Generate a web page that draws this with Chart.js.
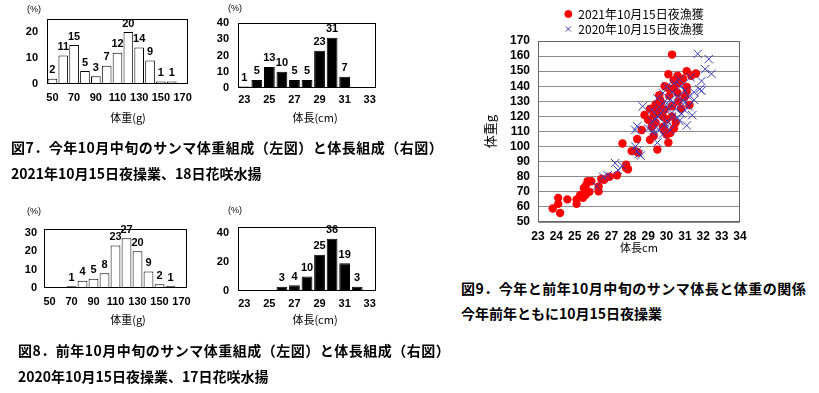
<!DOCTYPE html>
<html><head><meta charset="utf-8">
<script src="https://cdn.jsdelivr.net/npm/chart.js@4"></script>
<style>
body{margin:0;background:#fff;width:819px;height:393px;overflow:hidden;position:relative;font-family:"Noto Sans CJK JP",sans-serif;color:#000;}
canvas{position:absolute;}
.cap{position:absolute;font-weight:bold;font-size:14px;line-height:20px;white-space:nowrap;}
.l1{letter-spacing:0.5px;}
.pct{position:absolute;font-size:9px;line-height:11px;font-family:"Liberation Sans",sans-serif;}
.xt{position:absolute;font-size:11px;line-height:14px;white-space:nowrap;transform:translateX(-50%);}
</style></head><body>
<canvas id="c1" width="200" height="130" style="left:0;top:0"></canvas>
<canvas id="c2" width="185" height="130" style="left:200px;top:0"></canvas>
<canvas id="c3" width="200" height="130" style="left:0;top:195px"></canvas>
<canvas id="c4" width="185" height="130" style="left:200px;top:195px"></canvas>
<canvas id="c5" width="330" height="262" style="left:470px;top:0"></canvas>

<div class="pct" style="left:27px;top:4px">(%)</div>
<div class="pct" style="left:228px;top:3px">(%)</div>
<div class="pct" style="left:27px;top:206px">(%)</div>
<div class="pct" style="left:228px;top:205px">(%)</div>
<div class="xt" style="left:128px;top:110px">体重(g)</div>
<div class="xt" style="left:315px;top:110px">体長(cm)</div>
<div class="xt" style="left:128px;top:312px">体重(g)</div>
<div class="xt" style="left:315px;top:312px">体長(cm)</div>

<div class="cap l1" style="left:11px;top:137px">図7．今年10月中旬のサンマ体重組成（左図）と体長組成（右図）</div>
<div class="cap" style="left:11px;top:163px">2021年10月15日夜操業、18日花咲水揚</div>
<div class="cap l1" style="left:18px;top:340px">図8．前年10月中旬のサンマ体重組成（左図）と体長組成（右図）</div>
<div class="cap" style="left:18px;top:366px">2020年10月15日夜操業、17日花咲水揚</div>
<div class="cap l1" style="left:461px;top:278px">図9．今年と前年10月中旬のサンマ体長と体重の関係</div>
<div class="cap" style="left:461px;top:303px">今年前年ともに10月15日夜操業</div>

<script>
// ---- data ----
const weightClasses = ['50','60','70','80','90','100','110','120','130','140','150','160','170'];
const lengthClasses = ['23','24','25','26','27','28','29','30','31','32','33'];
const weight2021 = [2,11,15,5,3,7,12,20,14,9,1,1,0];
const length2021 = [1,5,13,10,5,5,23,31,7,0,0];
const weight2020 = [0,0,1,4,5,8,23,27,20,9,2,1,0];
const length2020 = [0,0,0,3,4,10,25,36,19,3,0];
const label2021 = '2021年10月15日夜漁獲';
const label2020 = '2020年10月15日夜漁獲';
const fish2021 = [
 [23.8,59],[24.1,66],[24.1,62],[24.2,56],[24.6,65],[25.1,65],[25.1,62],[25.3,68],[25.45,66],[25.5,72.5],
 [25.6,68],[25.7,77],[25.9,77],[25.6,74],[25.8,70],[26.3,73.6],[26.3,70.3],[26.45,78.5],[26.6,78],[26.9,80],
 [27.3,81],[27.8,88],[27.8,85.7],[27.9,85],[27.6,102],[28.1,97],[28.3,97],[28.45,96],[28.4,105],[28.65,111],
 [29.1,104.5],[29.3,107],[29.5,98],[30.1,102.7],[30.0,108],[30.2,109],
 [30.3,161],[30.1,148],[30.6,147],[30.7,143],[31.1,150],[31.35,147],[31.6,148.5],[30.6,142],[30.1,138.7],[30.4,138.7],
 [31.1,139.5],[31.1,136.6],[29.6,134],[29.65,131],[29.6,127.6],[30.15,133.6],[31.25,127.6],[30.65,130],[29.3,121],[28.8,121],
 [29.0,117.7],[29.5,122],[29.9,124.5],[30.3,126.7],[29.8,113],[29.2,113],[29.5,124.5],[29.7,129],[30.6,135.5],[31.0,133],
 [30.3,120],[30.5,116],[30.0,118],[29.9,110],[30.4,112],[29.4,116],[30.8,125],[29.8,120],
 [29.1,125],[30.4,144],[29.9,140],[30.9,145],[29.4,128]
];
const fish2020 = [
 [26.2,73.6],[26.55,80],[26.8,81],[27.2,89],[27.35,84.5],[27.6,87],[28.3,100],[28.5,95],[28.6,94],[28.4,97],
 [29.3,109],[29.5,102.6],[29.6,111],[30.2,111],[29.8,108],
 [31.7,161.5],[32.3,158],[32.1,151.3],[32.45,148.2],[31.9,143.5],[31.8,138],[31.5,136],[31.9,137],[31.3,146],[28.7,126.7],
 [28.4,113.5],[28.3,111],[29.2,116.6],[29.5,120],[30.1,124.5],[30.4,128.9],[30.6,133.4],[30.9,131],[30.8,122],[31.4,120.8],
 [30.3,120],[29.9,115.6],[30.6,119],[30.0,140],[30.4,142],[30.7,144.5],[29.2,124.5],[29.5,132],[29.8,135.5],[31.2,126.7],
 [31.0,137],[31.5,131],[30.0,113],[29.0,112],[31.1,114],
 [29.4,118],[29.7,122],[30.0,127],[30.2,131],[30.5,125],[30.9,128],[29.9,130],[30.3,136],[29.6,126],[30.8,140],
 [31.2,133],[29.3,111],[30.7,117],[31.0,124],[30.1,116]
];

// ---- plugins ----
const framePlugin = {
  id: 'frame',
  afterDatasetsDraw(chart, args, opts) {
    const {ctx, chartArea: a} = chart;
    ctx.save();
    ctx.strokeStyle = opts.color || '#000';
    ctx.lineWidth = 1;
    ctx.strokeRect(Math.round(a.left) + 0.5, Math.round(a.top) + 0.5,
                   Math.round(a.right - a.left) - 1, Math.round(a.bottom - a.top) - 1);
    ctx.restore();
  }
};
const valueLabels = {
  id: 'valueLabels',
  afterDatasetsDraw(chart, args, opts) {
    if (!opts.display) return;
    const {ctx} = chart;
    const meta = chart.getDatasetMeta(0);
    const data = chart.data.datasets[0].data;
    ctx.save();
    ctx.font = 'bold 11px "Liberation Sans", Arial, sans-serif';
    ctx.fillStyle = '#000';
    ctx.textAlign = 'center';
    ctx.textBaseline = 'bottom';
    meta.data.forEach((bar, i) => {
      if (!data[i]) return;
      ctx.fillText(String(data[i]), bar.x, bar.y - 3);
    });
    ctx.restore();
  }
};
// nudges the legend box (placement only) so it is centred above the plot like the original
const legendShift = {
  id: 'legendShift',
  afterLayout(chart, args, opts) {
    const lg = chart.legend;
    if (!lg) return;
    lg.left += opts.dx; lg.right += opts.dx;
    lg.top += opts.dy; lg.bottom += opts.dy;
  }
};

const tickFont = {family: '"Liberation Sans", Arial, sans-serif', size: 11, weight: 'bold'};

function histogram(id, labels, values, o) {
  return new Chart(document.getElementById(id), {
    type: 'bar',
    data: {labels: labels, datasets: [{
      data: values, backgroundColor: o.fill, borderColor: '#000', borderWidth: 1,
      barPercentage: o.bp, categoryPercentage: 1
    }]},
    options: {
      responsive: false, animation: false,
      layout: {padding: o.pad},
      plugins: {legend: {display: false}, tooltip: {enabled: false},
                frame: {color: '#000'}, valueLabels: {display: true}},
      scales: {
        x: {
          grid: {display: false, drawTicks: false}, border: {display: false},
          ticks: {autoSkip: false, maxRotation: 0, padding: o.xPad, font: tickFont, color: '#000',
                  callback: (v, i) => (i % 2 === 0 ? labels[i] : '')},
          afterFit(s) { s.height = 30; }
        },
        y: {
          min: 0, max: o.max,
          grid: {display: false, drawTicks: false}, border: {display: false},
          ticks: {padding: o.yPad, font: tickFont, color: '#000'},
          afterBuildTicks(s) { s.ticks = o.yTicks.map(v => ({value: v})); },
          afterFit(s) { s.width = o.yW; }
        }
      }
    },
    plugins: [framePlugin, valueLabels]
  });
}

histogram('c1', weightClasses, weight2021, {fill: '#fff', bp: 0.89, max: 25, yTicks: [0,10,20],
  pad: {top: 19, right: 12, left: 0, bottom: 16}, yW: 47, yPad: 9, xPad: 7});
histogram('c2', lengthClasses, length2021, {fill: '#000', bp: 0.86, max: 40, yTicks: [0,10,20,30,40],
  pad: {top: 23, right: 9, left: 0, bottom: 12}, yW: 38, yPad: 9, xPad: 5});
histogram('c3', weightClasses, weight2020, {fill: '#fff', bp: 0.89, max: 32, yTicks: [0,10,20,30],
  pad: {top: 34, right: 13, left: 0, bottom: 7}, yW: 44, yPad: 7, xPad: 7});
histogram('c4', lengthClasses, length2020, {fill: '#000', bp: 0.86, max: 44, yTicks: [0,10,20,30,40],
  pad: {top: 32, right: 9, left: 0, bottom: 4}, yW: 38, yPad: 9, xPad: 6});

// ---- scatter ----
const blue = '#3a3ab4';
const scatterTickFont = {family: '"Liberation Sans", Arial, sans-serif', size: 12, weight: 'bold'};
new Chart(document.getElementById('c5'), {
  type: 'scatter',
  data: {datasets: [
    {label: label2021, data: fish2021.map(p => ({x: p[0], y: p[1]})),
     pointStyle: 'circle', pointRadius: 4.2, backgroundColor: '#ff0000', borderColor: '#ff0000',
     pointBorderWidth: 0, order: 1},
    {label: label2020, data: fish2020.map(p => ({x: p[0], y: p[1]})),
     pointStyle: 'crossRot', pointRadius: 6, backgroundColor: blue, borderColor: blue,
     pointBorderWidth: 1, order: 0}
  ]},
  options: {
    responsive: false, animation: false,
    layout: {padding: {top: 1, left: 12, right: 60, bottom: 8}},
    plugins: {
      tooltip: {enabled: false},
      frame: {color: '#666'},
      legendShift: {dx: 23, dy: 4},
      legend: {
        position: 'top', align: 'center',
        labels: {
          usePointStyle: true, boxWidth: 8, boxHeight: 5, padding: 3, color: '#000',
          font: {family: '"Noto Sans CJK JP", sans-serif', size: 12},
          sort: (a, b) => a.datasetIndex - b.datasetIndex,
          generateLabels(chart) {
            const items = Chart.defaults.plugins.legend.labels.generateLabels(chart);
            items.forEach(it => { it.lineWidth = 1; });
            return items;
          }
        }
      }
    },
    scales: {
      x: {
        type: 'linear', min: 23, max: 34,
        grid: {display: false, drawTicks: false}, border: {display: false},
        ticks: {stepSize: 1, autoSkip: false, maxRotation: 0, minRotation: 0, padding: 7, color: '#000',
                font: scatterTickFont},
        title: {display: true, text: '体長cm', color: '#000', padding: 0,
                font: {family: '"Noto Sans CJK JP", sans-serif', size: 11, lineHeight: 1.2}},
        afterFit(s) { s.height = 32; }
      },
      y: {
        min: 50, max: 170,
        grid: {color: '#8c8c8c', lineWidth: 1, drawTicks: false}, border: {display: false},
        ticks: {stepSize: 10, autoSkip: false, padding: 8, color: '#000', font: scatterTickFont},
        title: {display: true, text: '体重g', color: '#000', padding: {top: 0, bottom: 0},
                font: {family: '"Noto Sans CJK JP", sans-serif', size: 13, lineHeight: 1.2}},
        afterFit(s) { s.width = 56; }
      }
    }
  },
  plugins: [framePlugin, legendShift]
});
</script>
</body></html>
